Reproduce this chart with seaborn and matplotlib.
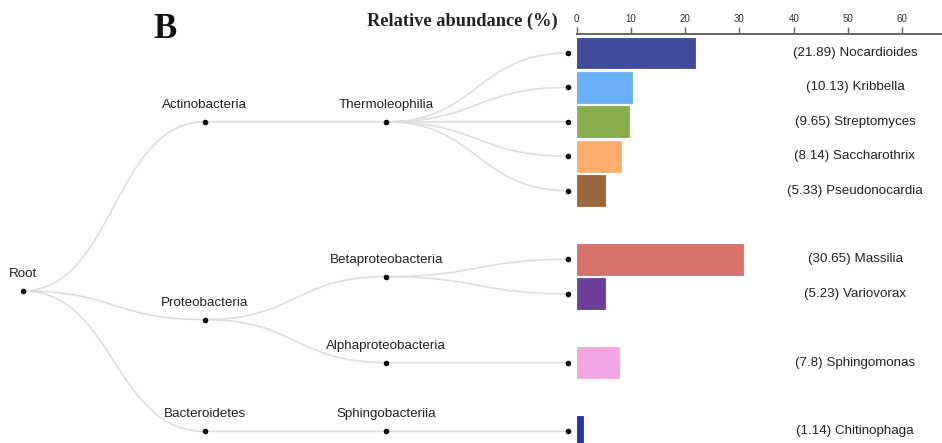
import matplotlib
matplotlib.use("Agg")
import matplotlib.pyplot as plt
from matplotlib.path import Path
from matplotlib.patches import PathPatch
import seaborn as sns
import numpy as np

# ---------------- data ----------------
phyla = ["Actinobacteria", "Proteobacteria", "Bacteroidetes"]
classes = ["Thermoleophilia", "Betaproteobacteria", "Alphaproteobacteria", "Sphingobacteriia"]
class_phylum = ["Actinobacteria", "Proteobacteria", "Proteobacteria", "Bacteroidetes"]
genera = ["Nocardioides", "Kribbella", "Streptomyces", "Saccharothrix", "Pseudonocardia",
          "Massilia", "Variovorax", "Sphingomonas", "Chitinophaga"]
genus_class = ["Thermoleophilia"] * 5 + ["Betaproteobacteria"] * 2 + ["Alphaproteobacteria", "Sphingobacteriia"]
abundance = [21.89, 10.13, 9.65, 8.14, 5.33, 30.65, 5.23, 7.8, 1.14]
colors = ["#3E4C9B", "#6AB0F7", "#88AE4E", "#FDAD6E", "#9C673E",
          "#D9726B", "#6E3F98", "#F2A6E6", "#2B33A6"]
xticks = [0, 10, 20, 30, 40, 50, 60]

# ---------------- layout ----------------
W, H = 942, 443
ROW0, ROWH = 53.0, 34.4          # pixel y of first row, row pitch
X0, DX = 23.0, 181.7             # pixel x of root, depth step
def r_of(pix):
    return (pix - ROW0) / ROWH

# rows for genera: one blank row between class groups
rows = []
r = 0
prev = None
for g, c in zip(genera, genus_class):
    if prev is not None and c != prev:
        r += 1
    rows.append(r)
    r += 1
    prev = c
rows = np.array(rows, dtype=float)

class_y = {c: np.mean([rows[i] for i in range(len(genera)) if genus_class[i] == c]) for c in classes}
phylum_y = {p: np.mean([class_y[c] for c, pp in zip(classes, class_phylum) if pp == p]) for p in phyla}
root_y = np.mean(list(phylum_y.values()))

fig = plt.figure(figsize=(W / 100, H / 100), dpi=100)
sns.set_style("white")
plt.rcParams["font.family"] = ["Liberation Sans", "DejaVu Sans"]

axt = fig.add_axes([0, 0, 1, 1])
AXTOP = 34.0
axb = fig.add_axes([576.5 / W, 0, (W - 576.5) / W, (H - AXTOP) / H])
axb.patch.set_alpha(0)

def link(x0, y0, x1, y1):
    xm = (x0 + x1) / 2
    p = Path([(x0, y0), (xm, y0), (xm, y1), (x1, y1)],
             [Path.MOVETO, Path.CURVE4, Path.CURVE4, Path.CURVE4])
    axt.add_patch(PathPatch(p, fc="none", ec="#DEDEDE", lw=1.2, zorder=1))

xr, xp, xc, xl = X0, X0 + DX, X0 + 2 * DX, X0 + 3 * DX
for p in phyla:
    link(xr, root_y, xp, phylum_y[p])
for c, p in zip(classes, class_phylum):
    link(xp, phylum_y[p], xc, class_y[c])
for i, c in enumerate(genus_class):
    link(xc, class_y[c], xl, rows[i])

nx = [xr] + [xp] * len(phyla) + [xc] * len(classes) + [xl] * len(genera)
ny = [root_y] + [phylum_y[p] for p in phyla] + [class_y[c] for c in classes] + list(rows)
sns.scatterplot(x=nx, y=ny, ax=axt, color="black", s=16, linewidth=0, zorder=3, legend=False)
axt.set_xlim(0, W)
axt.set_ylim(r_of(H), r_of(0))
axt.axis("off")

lab_off = 17 / ROWH
txt_kw = dict(ha="center", va="center", fontsize=9.6, color="#222222")
axt.text(xr, root_y - lab_off, "Root", **txt_kw)
for p in phyla:
    axt.text(xp, phylum_y[p] - lab_off, p, **txt_kw)
for c in classes:
    axt.text(xc, class_y[c] - lab_off, c, **txt_kw)
for g, v, rr in zip(genera, abundance, rows):
    axt.text(855, rr, f"({v:g}) {g}", **txt_kw)

axt.text(165, r_of(30), "B", ha="center", va="center", fontsize=25, fontweight="bold",
         family=["Liberation Serif", "DejaVu Serif"], color="#111111")
axt.text(558, r_of(21), "Relative abundance (%)", ha="right", va="center", fontsize=13.2,
         fontweight="bold", family=["Liberation Serif", "DejaVu Serif"], color="#222222")

# ---------------- bars ----------------
sns.barplot(x=abundance, y=rows, hue=genera, palette=colors, orient="h", native_scale=True,
            width=0.9, dodge=False, legend=False, ax=axb, saturation=1)
for patch, col in zip(axb.patches, colors):
    patch.set_edgecolor(col)
    patch.set_linewidth(0.6)
    patch.set_joinstyle("round")

axb.set_xlim(0, (W - 576.5) / 54.3 * 10)
axb.set_ylim(r_of(H), r_of(AXTOP))
axb.xaxis.tick_top()
axb.set_xticks(xticks)
axb.set_yticks([])
axb.set_xlabel("")
axb.set_ylabel("")
for s in ["left", "right", "bottom"]:
    axb.spines[s].set_visible(False)
axb.spines["top"].set_color("#666666")
axb.spines["top"].set_linewidth(1.4)
axb.tick_params(axis="x", direction="out", length=5, width=1, color="#666666",
                labelsize=7, labelcolor="#333333", pad=2, top=True, bottom=False)

fig.savefig("out.png", dpi=100)
